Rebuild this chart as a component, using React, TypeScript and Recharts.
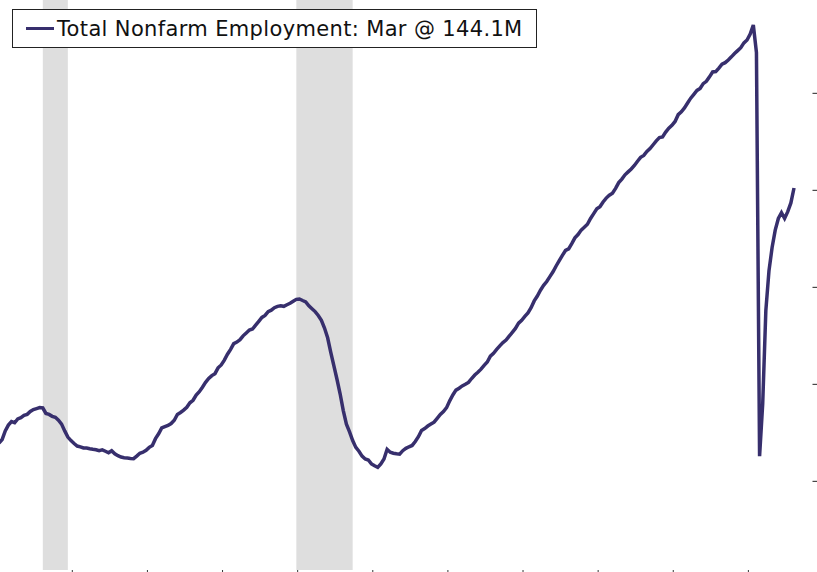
import React from "react";
import { LineChart, Line, XAxis, YAxis, ReferenceArea } from "recharts";

// Total nonfarm employment, millions, monthly from Jan 2000 to Mar 2021
const startYear = 2000;
const emp2000 = [130.97, 131.15, 131.6, 131.9, 132.08, 132.02, 132.22, 132.28, 132.4, 132.45, 132.6, 132.7];
const emp2001 = [132.75, 132.8, 132.78, 132.5, 132.45, 132.35, 132.3, 132.15, 131.95, 131.6, 131.28, 131.1];
const emp2002 = [130.95, 130.82, 130.78, 130.72, 130.72, 130.68, 130.65, 130.63, 130.58, 130.62, 130.55, 130.47];
const emp2003 = [130.58, 130.42, 130.32, 130.25, 130.22, 130.2, 130.18, 130.17, 130.3, 130.45, 130.5, 130.6];
const emp2004 = [130.75, 130.85, 131.2, 131.45, 131.75, 131.82, 131.88, 131.98, 132.15, 132.45, 132.55, 132.67];
const emp2005 = [132.82, 133.05, 133.18, 133.45, 133.62, 133.85, 134.1, 134.3, 134.45, 134.55, 134.85, 135.0];
const emp2006 = [135.25, 135.55, 135.8, 136.1, 136.18, 136.3, 136.5, 136.65, 136.8, 136.85, 137.05, 137.25];
const emp2007 = [137.45, 137.55, 137.75, 137.82, 137.95, 138.02, 138.05, 138.02, 138.1, 138.18, 138.28, 138.38];
const emp2008 = [138.4, 138.32, 138.25, 138.05, 137.9, 137.75, 137.55, 137.3, 136.9, 136.4, 135.65, 134.95];
const emp2009 = [134.25, 133.5, 132.65, 131.95, 131.55, 131.1, 130.75, 130.55, 130.3, 130.15, 130.1, 129.9];
const emp2010 = [129.8, 129.72, 129.9, 130.15, 130.65, 130.5, 130.45, 130.42, 130.4, 130.58, 130.7, 130.78];
const emp2011 = [130.85, 131.05, 131.3, 131.62, 131.72, 131.85, 131.95, 132.05, 132.25, 132.45, 132.6, 132.8];
const emp2012 = [133.15, 133.45, 133.7, 133.8, 133.92, 134.0, 134.1, 134.3, 134.48, 134.62, 134.78, 134.98];
const emp2013 = [135.15, 135.45, 135.6, 135.8, 135.98, 136.15, 136.28, 136.48, 136.68, 136.88, 137.15, 137.3];
const emp2014 = [137.5, 137.68, 137.95, 138.3, 138.55, 138.85, 139.1, 139.3, 139.55, 139.8, 140.1, 140.38];
const emp2015 = [140.65, 140.9, 140.98, 141.25, 141.55, 141.72, 141.95, 142.1, 142.25, 142.55, 142.8, 143.05];
const emp2016 = [143.15, 143.4, 143.6, 143.75, 143.85, 144.1, 144.4, 144.58, 144.8, 144.95, 145.1, 145.28];
const emp2017 = [145.5, 145.7, 145.8, 146.0, 146.15, 146.35, 146.55, 146.72, 146.75, 147.0, 147.2, 147.35];
const emp2018 = [147.55, 147.9, 148.05, 148.25, 148.5, 148.75, 148.95, 149.15, 149.25, 149.5, 149.62, 149.85];
const emp2019 = [150.1, 150.12, 150.3, 150.5, 150.58, 150.72, 150.88, 151.05, 151.2, 151.35, 151.6, 151.75];
const emp2020 = [152.05, 152.52, 151.1, 130.3, 133.0, 137.8, 139.85, 141.05, 141.95, 142.55, 142.85, 142.55];
const emp2021 = [142.9, 143.35, 144.12];

const employment = [
  ...emp2000, ...emp2001, ...emp2002, ...emp2003, ...emp2004, ...emp2005, ...emp2006,
  ...emp2007, ...emp2008, ...emp2009, ...emp2010, ...emp2011, ...emp2012, ...emp2013,
  ...emp2014, ...emp2015, ...emp2016, ...emp2017, ...emp2018, ...emp2019, ...emp2020, ...emp2021,
];

// Recessions (start month, end month)
const recessionStarts = [[2001, 3], [2007, 12]];
const recessionEnds = [[2001, 11], [2009, 6]];

const xTickYears = [2002, 2004, 2006, 2008, 2010, 2012, 2014, 2016, 2018, 2020];
const yTicks = [129, 134, 139, 144, 149];

const legendLabel = "Total Nonfarm Employment: Mar @ 144.1M";

const toT = (y: number, m: number) => y + (m - 1) / 12;
const data = employment.map((v, i) => ({ t: startYear + i / 12, value: v }));

const LINE_COLOR = "#372f6d";
const TICK_OFFSET = 0.048;

const NoLabel = () => <g />;

export default function App() {
  return (
    <div style={{ position: "absolute", left: 0, top: 0, width: 817, height: 572, background: "#fff" }}>
      <LineChart
        width={817}
        height={572}
        data={data}
        margin={{ top: 0, right: 0, bottom: 0, left: 0 }}
      >
        <XAxis
          dataKey="t"
          type="number"
          domain={[2000.027, 2021.659]}
          allowDataOverflow
          ticks={xTickYears.map((y) => y - TICK_OFFSET)}
          tick={NoLabel}
          axisLine={false}
          stroke="#333"
          tickLine={{ stroke: "#333", strokeWidth: 1 }}
          tickSize={5}
          height={2}
        />
        <YAxis
          orientation="right"
          type="number"
          domain={[124.43, 153.81]}
          allowDataOverflow
          ticks={yTicks}
          tick={NoLabel}
          axisLine={false}
          stroke="#222"
          tickLine={{ stroke: "#222", strokeWidth: 1 }}
          tickSize={5}
          width={4.5}
        />
        {recessionStarts.map((s, i) => (
          <ReferenceArea
            key={i}
            x1={toT(s[0], s[1])}
            x2={toT(recessionEnds[i][0], recessionEnds[i][1])}
            fill="#dedede"
            fillOpacity={1}
            stroke="none"
            ifOverflow="hidden"
          />
        ))}
        <Line
          type="linear"
          dataKey="value"
          stroke={LINE_COLOR}
          strokeWidth={3.5}
          dot={false}
          activeDot={false}
          isAnimationActive={false}
        />
      </LineChart>
      <div
        style={{
          position: "absolute",
          left: 12,
          top: 9,
          width: 523,
          height: 37,
          border: "1.5px solid #222",
          background: "#fff",
          boxSizing: "content-box",
          display: "flex",
          alignItems: "center",
          fontFamily: "'DejaVu Sans', Verdana, sans-serif",
          fontSize: 21,
          letterSpacing: 0.35,
          color: "#111",
          whiteSpace: "nowrap",
        }}
      >
        <span style={{ display: "inline-block", width: 28, height: 3.2, background: LINE_COLOR, marginLeft: 13, marginRight: 3 }} />
        <span>{legendLabel}</span>
      </div>
    </div>
  );
}
